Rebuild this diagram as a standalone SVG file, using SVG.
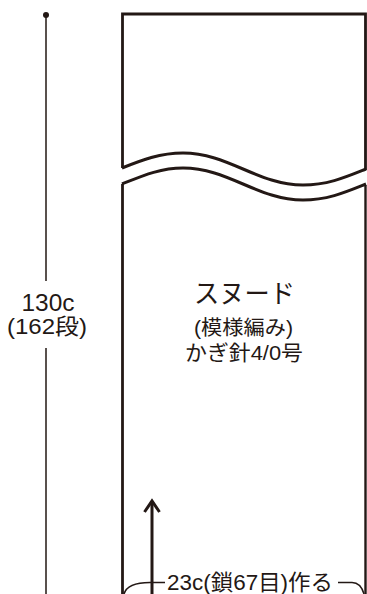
<svg xmlns="http://www.w3.org/2000/svg" width="367" height="594" viewBox="0 0 367 594">
<style>
.ln{fill:none;stroke:#231815;stroke-linecap:butt;stroke-linejoin:miter}
.t{font-family:"Liberation Sans","Noto Sans CJK JP",sans-serif;fill:#231815;text-anchor:middle}
</style>
<rect width="367" height="594" fill="#fff"/>
<g id="piece">
<path class="ln" stroke-width="2.8" d="M122.5,168 V14 H365.5 V170"/>
<path class="ln" stroke-width="2.8" d="M122.5,184 V594"/>
<path class="ln" stroke-width="2.4" d="M365.5,185 V594"/>
<path class="ln" stroke-width="3" d="M122,168 C142,160 160,153 183,153 C228,153 258,185 303,185 C328,185 346,177 366,169"/>
<path class="ln" stroke-width="3" d="M122,184 C142,176 160,168 183,168 C228,168 258,200 303,200 C328,200 346,192 366,184"/>
<text class="t" x="244.5" y="303" font-size="26" textLength="101" lengthAdjust="spacingAndGlyphs">スヌード</text>
<text class="t" x="243.5" y="335" font-size="20" textLength="99" lengthAdjust="spacingAndGlyphs">(模様編み)</text>
<text class="t" x="244" y="360" font-size="21" textLength="118" lengthAdjust="spacingAndGlyphs">かぎ針4/0号</text>
</g>
<g id="height-dim">
<circle cx="46" cy="15" r="3" fill="#231815"/>
<circle cx="46" cy="597" r="3" fill="#231815"/>
<path class="ln" stroke-width="1.5" d="M46,15 V281 M46,348 V594"/>
<text class="t" x="48" y="311" font-size="23" textLength="53" lengthAdjust="spacingAndGlyphs">130c</text>
<text class="t" x="47" y="334" font-size="22" textLength="80" lengthAdjust="spacingAndGlyphs">(162段)</text>
</g>
<g id="connectors">
<path class="ln" stroke-width="3" d="M152,594 V501"/>
<path class="ln" stroke-width="3" d="M144.5,512 L152,501 L159.5,512"/>
<path class="ln" stroke-width="1.5" d="M124,594 C126,587 134,582.5 150,582.5 H165"/>
<path class="ln" stroke-width="1.5" d="M338,582.5 H352 C358,582.5 362,587 364,594"/>
</g>
<g id="width-label">
<text class="t" x="250" y="590" font-size="22" textLength="166" lengthAdjust="spacingAndGlyphs">23c(鎖67目)作る</text>
</g>
</svg>
